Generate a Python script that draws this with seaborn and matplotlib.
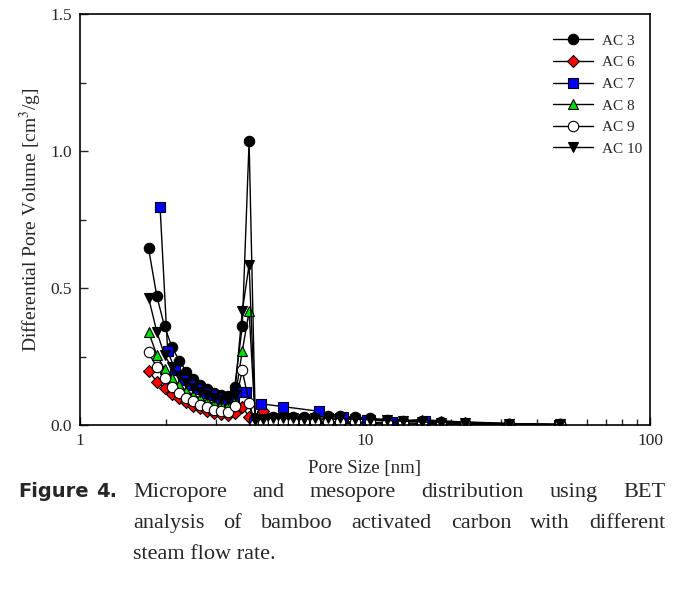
import numpy as np
import pandas as pd
import matplotlib
matplotlib.use("Agg")
import matplotlib.pyplot as plt
from matplotlib.ticker import FixedLocator, MultipleLocator, NullFormatter, FormatStrFormatter
import seaborn as sns

# pore size grid shared by most samples [nm]
pore_size = [1.74, 1.86, 1.98, 2.10, 2.23, 2.36, 2.50, 2.64, 2.79, 2.95, 3.12, 3.30,
             3.49, 3.71, 3.92, 4.12, 4.40, 4.75, 5.15, 5.60, 6.10, 6.70, 7.40, 8.20,
             9.20, 10.4, 11.9, 13.6, 15.8, 18.5, 22.5, 32.0, 48.5]

ac3 = [0.645, 0.470, 0.360, 0.285, 0.235, 0.195, 0.168, 0.147, 0.130, 0.118, 0.108, 0.105,
       0.140, 0.360, 1.035, 0.025, 0.028, 0.030, 0.032, 0.030, 0.028, 0.030, 0.033, 0.032,
       0.028, 0.024, 0.020, 0.016, 0.013, 0.011, 0.008, 0.005, 0.002]
ac6 = [0.197, 0.158, 0.134, 0.113, 0.097, 0.083, 0.071, 0.061, 0.052, 0.045, 0.039, 0.036,
       0.045, 0.067, 0.030, 0.005, 0.050, 0.018, 0.015, 0.012, 0.010, 0.008, 0.008, 0.007,
       0.006, 0.005, 0.004, 0.004, 0.003, 0.003, 0.002, 0.001, 0.000]
ac8 = [0.340, 0.255, 0.205, 0.170, 0.145, 0.125, 0.110, 0.097, 0.087, 0.080, 0.075, 0.073,
       0.090, 0.270, 0.415, 0.015, 0.018, 0.020, 0.020, 0.018, 0.017, 0.018, 0.020, 0.020,
       0.022, 0.020, 0.018, 0.016, 0.020, 0.015, 0.010, 0.004, 0.002]
ac9 = [0.265, 0.210, 0.170, 0.140, 0.118, 0.100, 0.086, 0.074, 0.064, 0.056, 0.050, 0.048,
       0.070, 0.200, 0.080, 0.005, 0.008, 0.010, 0.010, 0.010, 0.010, 0.010, 0.012, 0.012,
       0.010, 0.010, 0.008, 0.008, 0.006, 0.005, 0.004, 0.003, 0.002]
ac10 = [0.465, 0.340, 0.255, 0.210, 0.180, 0.155, 0.135, 0.120, 0.108, 0.098, 0.092, 0.090,
        0.110, 0.415, 0.585, 0.020, 0.022, 0.025, 0.025, 0.024, 0.022, 0.024, 0.026, 0.025,
        0.022, 0.020, 0.017, 0.014, 0.011, 0.009, 0.007, 0.004, 0.002]

# AC 7 was measured on a slightly shifted grid
pore_size_ac7 = [1.91, 2.03, 2.16, 2.29, 2.43, 2.58, 2.74, 2.91, 3.09, 3.28, 3.48, 3.66,
                 3.83, 4.07, 4.33, 5.17, 6.90, 8.40, 10.2, 12.4, 16.3, 47.8]
ac7 = [0.795, 0.270, 0.200, 0.165, 0.145, 0.130, 0.118, 0.108, 0.100, 0.095, 0.092, 0.120,
       0.120, 0.010, 0.077, 0.067, 0.050, 0.030, 0.020, 0.012, 0.016, 0.000]

labels = ["AC 3", "AC 6", "AC 7", "AC 8", "AC 9", "AC 10"]

series = [
    (pore_size, ac3, "o", "black"),
    (pore_size, ac6, "D", "red"),
    (pore_size_ac7, ac7, "s", "#0000ff"),
    (pore_size, ac8, "^", "#00dd00"),
    (pore_size, ac9, "o", "white"),
    (pore_size, ac10, "v", "black"),
]

sns.set_style("ticks")
plt.rcParams["font.family"] = ["Liberation Serif", "DejaVu Serif"]
plt.rcParams["mathtext.fontset"] = "stix"

W, H = 686, 592
fig = plt.figure(figsize=(W / 100, H / 100), dpi=100)
ax = fig.add_axes([80 / W, 1 - 425 / H, 570 / W, 411 / H])

for (xs, ys, mk, fc), lab in zip(series, labels):
    df = pd.DataFrame({"size": xs, "vol": ys})
    ms = 6.5 if mk == "D" else 7.5
    sns.lineplot(data=df, x="size", y="vol", ax=ax, color="black", linewidth=1.0,
                 marker=mk, markersize=ms, markerfacecolor=fc, markeredgecolor="black",
                 markeredgewidth=0.8, estimator=None, sort=False, label=lab)

ax.set_xscale("log")
ax.set_xlim(1, 100)
ax.set_ylim(0, 1.5)
ax.xaxis.set_major_locator(FixedLocator([1, 10, 100]))
ax.set_xticklabels(["1", "10", "100"])
ax.xaxis.set_minor_formatter(NullFormatter())
ax.yaxis.set_major_locator(MultipleLocator(0.5))
ax.yaxis.set_minor_locator(MultipleLocator(0.25))
ax.yaxis.set_major_formatter(FormatStrFormatter("%.1f"))
ax.tick_params(which="both", direction="in", labelsize=12.5, width=1, pad=6)
ax.tick_params(which="major", length=6)
ax.tick_params(which="minor", length=4)
for sp in ax.spines.values():
    sp.set_linewidth(1.2)
    sp.set_color("black")

ax.set_xlabel("Pore Size [nm]", fontsize=13.5, labelpad=8)
ax.set_ylabel("Differential Pore Volume [cm$^3$/g]", fontsize=14, labelpad=4)

leg = ax.legend(loc="upper right", bbox_to_anchor=(1.01, 0.985), frameon=False,
                fontsize=11, handlelength=2.6, labelspacing=0.52, handletextpad=0.6)

# caption, justified like the journal layout
fig.text(18 / W, 1 - 497 / H, "Figure", fontsize=14, fontweight="bold",
         family="DejaVu Sans", va="baseline")
fig.text(96 / W, 1 - 497 / H, "4.", fontsize=14, fontweight="bold",
         family="DejaVu Sans", va="baseline")

renderer = fig.canvas.get_renderer()


def justify(words, x0, x1, y, fs=16):
    texts = [fig.text(0, 1 - y / H, w, fontsize=fs, va="baseline") for w in words]
    widths = [t.get_window_extent(renderer).width for t in texts]
    gap = (x1 - x0 - sum(widths)) / (len(words) - 1)
    x = x0
    for t, w in zip(texts, widths):
        t.set_x(x / W)
        x += w + gap


justify("Micropore and mesopore distribution using BET".split(), 133, 665, 497)
justify("analysis of bamboo activated carbon with different".split(), 133, 665, 528)
fig.text(133 / W, 1 - 559 / H, "steam flow rate.", fontsize=16, va="baseline")

fig.savefig("out.png", dpi=100)
